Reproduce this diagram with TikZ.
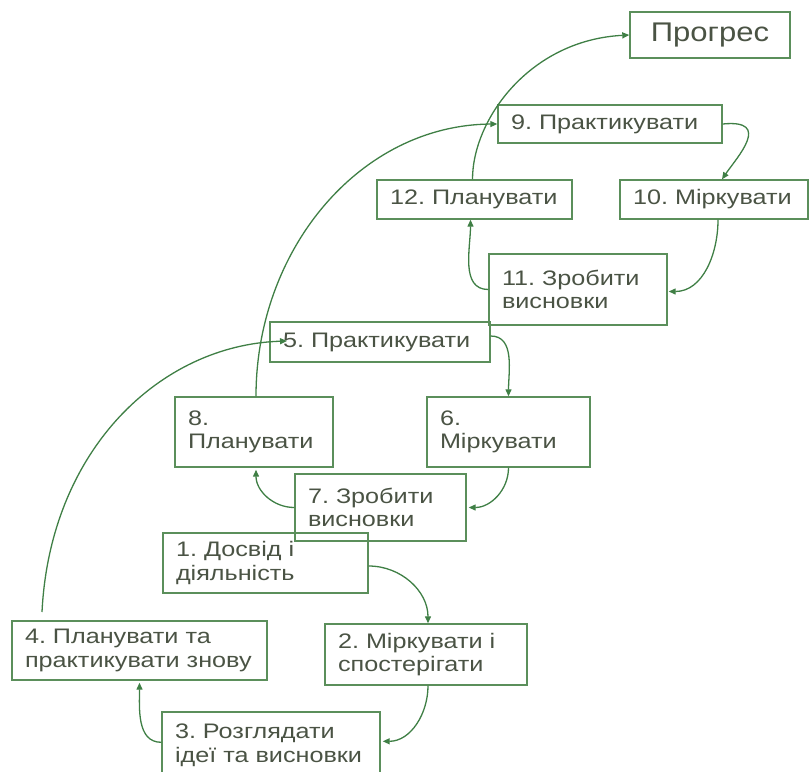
\documentclass[tikz,border=0pt]{standalone}
\usepackage{fontspec}
\setmainfont{Liberation Sans}
\newfontfamily\boxfont[FakeStretch=1.2]{Liberation Sans}
\newfontfamily\progfont[FakeStretch=1.15]{Liberation Sans}
\usetikzlibrary{arrows.meta,calc}
\definecolor{boxgreen}{HTML}{5B8F5B}
\definecolor{linegreen}{HTML}{3F7F45}
\definecolor{txt}{HTML}{4A5344}
\tikzset{
  stage/.style={draw=boxgreen, line width=1.4pt, align=left, inner xsep=13pt, inner ysep=0pt,
    text=txt, font=\boxfont\fontsize{21}{23.5}\selectfont\frenchspacing, anchor=center},
  link/.style={draw=linegreen, line width=1.3pt, -{Triangle[length=7pt,width=6pt]}},
}
\begin{document}
\begin{tikzpicture}[x=1pt,y=1pt]
\useasboundingbox (0,0) rectangle (810,-771);
% nodes
\node[stage, align=center, font=\progfont\fontsize{27}{32}\selectfont, minimum width=160pt, minimum height=46pt] (prog) at (710,-35) {Прогрес};
\node[stage, minimum width=224pt, text width=198pt, minimum height=38pt] (n9) at (610,-124) {9. Практикувати};
\node[stage, minimum width=195pt, text width=169pt, minimum height=39pt] (n12) at (474.5,-199.5) {12. Планувати};
\node[stage, minimum width=188pt, text width=162pt, minimum height=39pt] (n10) at (714,-199.5) {10. Міркувати};
\node[stage, minimum width=178pt, text width=152pt, minimum height=71pt] (n11) at (578,-289.5) {11. Зробити\\висновки};
\node[stage, minimum width=220pt, text width=194pt, minimum height=40pt] (n5) at (380,-342) {5. Практикувати};
\node[stage, minimum width=158pt, text width=132pt, minimum height=70pt] (n8) at (254,-432) {8.\\Планувати};
\node[stage, minimum width=163pt, text width=137pt, minimum height=70pt] (n6) at (508.5,-432) {6.\\Міркувати};
\node[stage, minimum width=171pt, text width=145pt, minimum height=67pt] (n7) at (380.5,-507.5) {7. Зробити\\висновки};
\node[stage, minimum width=205pt, text width=179pt, minimum height=60pt] (n1) at (265.5,-563) {1. Досвід і\\діяльність};
\node[stage, minimum width=255pt, text width=229pt, minimum height=59pt] (n4) at (139.5,-650.5) {4. Планувати та\\практикувати знову};
\node[stage, minimum width=202pt, text width=176pt, minimum height=61pt] (n2) at (426,-654.5) {2. Міркувати і\\спостерігати};
\node[stage, minimum width=218pt, text width=192pt, minimum height=66pt] (n3) at (271,-745) {3. Розглядати\\ідеї та висновки};
% helper coordinates
\coordinate (n1e) at ($(n1.east)+(0,-3)$);
\coordinate (n2n) at ($(n2.north)+(2,0)$);
\coordinate (n2s) at ($(n2.south)+(2,0)$);
\coordinate (n3e) at ($(n3.north east)+(2,-30)$);
\coordinate (n3w) at ($(n3.north west)+(0,-31)$);
\coordinate (n4s) at ($(n4.south)+(0,-2)$);
\coordinate (n4top) at (42,-612);
\coordinate (n5in) at (287,-341);
\coordinate (n5e) at ($(n5.east)+(0,6)$);
\coordinate (n6s) at ($(n6.south)$);
\coordinate (n7e) at ($(n7.east)+(2,0)$);
\coordinate (n7w) at ($(n7.west)$);
\coordinate (n8s) at ($(n8.south)+(2,-2)$);
\coordinate (n8n) at ($(n8.north)+(2,0)$);
\coordinate (n9e) at ($(n9.east)$);
\coordinate (n10n) at ($(n10.north)+(8,0)$);
\coordinate (n10s) at ($(n10.south)+(4,0)$);
\coordinate (n11e) at ($(n11.east)+(1,-2)$);
\coordinate (n11w) at ($(n11.west)+(0,0)$);
\coordinate (n12s) at ($(n12.south)+(-4,0)$);
\coordinate (n12n) at ($(n12.north)+(-2,0)$);
% connectors
\draw[link] (n1e) to[out=0,in=90] (n2n);
\draw[link] (n2s) to[out=-90,in=0] (n3e);
\draw[link] (n3w) to[out=180,in=-90] (n4s);
\draw[link] (n4top) .. controls (50,-450) and (160,-345) .. (n5in);
\draw[link] (n5e) to[out=0,in=90] (n6.north);
\draw[link] (n6s) to[out=-90,in=0] (n7e);
\draw[link] (n7w) to[out=180,in=-90] (n8s);
\draw[link] (n8n) .. controls ($(n8n)+(0,147)$) and (360,-125) .. (n9.west);
\draw[link] (n9e) .. controls ($(n9e)+(50,5)$) and ($(n10n)+(15,22)$) .. (n10n);
\draw[link] (n10s) to[out=-90,in=0] (n11e);
\draw[link] (n11w) to[out=180,in=-90] (n12s);
\draw[link] (n12n) .. controls ($(n12n)+(0,60)$) and (530,-40) .. (prog.west);
\end{tikzpicture}
\end{document}
